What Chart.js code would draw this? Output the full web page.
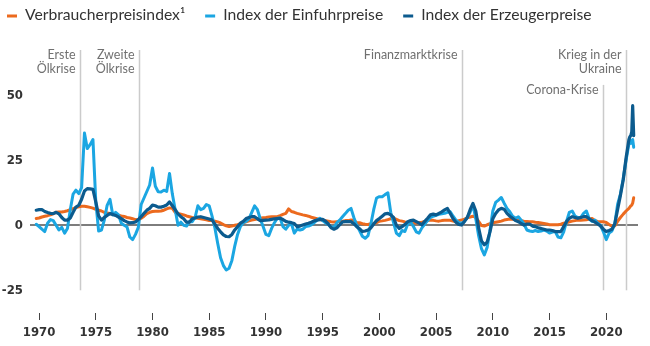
<!DOCTYPE html>
<html>
<head>
<meta charset="utf-8">
<script src="https://cdn.jsdelivr.net/npm/chart.js@4.4.0/dist/chart.umd.min.js"></script>
<style>
html, body { margin: 0; padding: 0; background: #fff; }
</style>
</head>
<body>
<canvas id="myChart" width="650" height="346"></canvas>
<script>
// Veränderung gegenüber Vorjahr in %, Quartalswerte ab Q4 1969, 2022 monatlich
var seriesNames = ['Verbraucherpreisindex\u00b9', 'Index der Einfuhrpreise', 'Index der Erzeugerpreise'];
var seriesColors = ['#ec6a1e', '#1ba6e2', '#0c5b8e'];

var firstDate = 1969.75;
var lastQuarter = 2022.0;
var tailDates = [2022.08, 2022.17, 2022.25, 2022.33, 2022.42];

var yearTicks = [1970, 1975, 1980, 1985, 1990, 1995, 2000, 2005, 2010, 2015, 2020];
var valueTicks = [-25, 0, 25, 50];

var eventDates = [1973.6, 1978.85, 2007.25, 2019.75, 2021.72];
var eventLabels = [['Erste', '\u00d6lkrise'], ['Zweite', '\u00d6lkrise'], ['Finanzmarktkrise'], ['Corona-Krise'], ['Krieg in der', 'Ukraine']];

var cpi = [
	2.6,
	2.8, 3.2, 3.5, 3.7,    // 1970
	4.0, 4.5, 5.0, 5.1,
	5.1, 5.3, 5.6, 6.0,
	6.4, 6.8, 7.1, 7.3,
	7.3, 7.1, 6.9, 6.6,
	6.1, 5.8, 5.5, 5.0,    // 1975
	4.7, 4.5, 4.2, 4.0,
	3.9, 3.6, 3.4, 3.0,
	2.8, 2.5, 2.2, 2.0,
	2.7, 3.5, 4.5, 5.0,
	5.3, 5.4, 5.4, 5.5,    // 1980
	5.8, 6.3, 6.7, 6.5,
	5.0, 4.6, 4.3, 4.0,
	3.6, 3.3, 3.0, 2.9,
	2.7, 2.5, 2.3, 2.1,
	1.8, 1.8, 1.6, 1.3,    // 1985
	0.9, 0.3, -0.2, -0.5,
	-0.3, 0.0, 0.2, 0.6,
	1.0, 1.3, 1.7, 2.0,
	2.2, 2.5, 2.7, 2.9,
	3.0, 3.2, 3.3, 3.3,    // 1990
	3.3, 3.7, 4.2, 4.6,
	6.3, 5.3, 5.0, 4.6,
	4.3, 4.0, 3.8, 3.5,
	3.1, 2.8, 2.5, 2.2,
	2.0, 1.8, 1.6, 1.4,    // 1995
	1.3, 1.4, 1.5, 1.6,
	1.8, 1.8, 2.0, 1.9,
	1.0, 1.0, 0.6, 0.4,
	0.3, 0.6, 0.7, 1.0,
	1.6, 1.7, 1.9, 2.2,    // 2000
	2.5, 2.8, 2.3, 1.8,
	1.6, 1.3, 1.1, 1.0,
	1.0, 0.9, 1.0, 1.2,
	1.5, 1.8, 2.0, 1.9,
	1.7, 1.6, 1.8, 1.9,    // 2005
	1.9, 1.9, 1.6, 1.4,
	1.8, 2.0, 2.4, 2.9,
	3.2, 3.5, 3.0, 1.5,
	-0.1, -0.3, 0.2, 0.6,
	1.0, 1.2, 1.4, 1.6,    // 2010
	2.0, 2.2, 2.4, 2.3,
	2.1, 2.0, 1.8, 1.6,
	1.5, 1.4, 1.4, 1.2,
	1.1, 0.9, 0.7, 0.5,
	0.2, 0.2, 0.2, 0.2,    // 2015
	0.4, 0.8, 1.0, 1.3,
	1.6, 1.8, 2.0, 1.9,
	2.0, 2.1, 2.4, 2.6,
	1.8, 1.5, 1.4, 1.4,
	1.1, 0.3, -0.3, -0.3,  // 2020
	1.5, 3.0, 4.3, 5.5,
	6.5,
	7.0, 7.5, 7.8, 8.5, 10.6
];

var importPrices = [
	0.4,
	-0.5, -1.5, -2.4, 0.8,     // 1970
	2.2, 1.8, 0.0, -1.8,
	-0.8, -3.0, -1.2, 6.0,
	12.0, 13.5, 12.2, 14.5,
	35.5, 29.5, 31.0, 33.0,
	9.0, -2.2, -1.8, 2.0,      // 1975
	7.7, 10.0, 4.0, 5.0,
	4.0, 0.8, 0.0, -0.6,
	-4.5, -5.5, -3.5, -0.8,
	8.0, 10.5, 13.0, 15.5,
	22.0, 15.0, 12.9, 12.8,    // 1980
	13.5, 13.0, 19.9, 12.0,
	6.0, 0.0, 1.2, 0.0,
	-0.3, 1.4, 1.4, 3.0,
	7.5, 6.0, 6.5, 8.0,
	7.5, 3.5, -1.0, -7.0,      // 1985
	-12.5, -15.5, -17.2, -16.5,
	-13.5, -8.0, -3.5, -0.5,
	1.0, 1.5, 2.5, 5.0,
	7.5, 6.0, 2.5, -0.5,
	-3.5, -4.0, -1.2, 1.0,     // 1990
	2.7, 2.8, -0.5, -1.5,
	0.0, 0.6, -3.0, -1.5,
	-1.8, -1.5, -0.5, -0.3,
	0.2, 1.0, 2.0, 2.7,
	1.8, 1.0, 0.2, -0.5,       // 1995
	-0.8, 1.0, 2.0, 3.3,
	4.5, 5.8, 6.5, 3.0,
	0.0, -2.0, -4.2, -5.0,
	-4.0, 0.5, 6.0, 10.5,
	11.0, 11.0, 11.8, 12.5,    // 2000
	5.0, 1.0, -3.0, -4.0,
	-2.0, -2.4, 0.5, 1.4,
	-0.5, -2.5, -3.0, -1.0,
	0.5, 1.8, 3.0, 3.5,
	3.8, 4.2, 4.4, 4.6,        // 2005
	5.0, 5.2, 3.5, 2.0,
	1.0, 0.8, 1.5, 3.0,
	5.0, 7.8, 2.5, -4.0,
	-9.0, -11.4, -8.5, -2.0,
	5.5, 8.8, 9.7, 10.7,       // 2010
	8.5, 6.5, 5.2, 3.5,
	2.7, 3.3, 2.0, 0.5,
	-1.8, -2.2, -2.4, -2.0,
	-2.4, -2.2, -1.8, -2.2,
	-3.0, -2.6, -2.4, -4.5,    // 2015
	-4.8, -2.5, 1.5, 5.0,
	5.5, 3.5, 3.0, 3.0,
	4.6, 5.5, 2.5, 1.5,
	2.0, 0.8, 0.0, -2.5,
	-5.5, -3.0, -2.2, 0.5,     // 2020
	8.0, 12.0, 18.0, 25.0,
	31.5,
	32.7, 31.5, 32.5, 33.0, 30.0
];

var producerPrices = [
	5.8,
	6.0, 6.0, 5.3, 4.9,     // 1970
	4.6, 4.5, 5.0, 4.4,
	3.0, 2.0, 2.0, 2.8,
	5.0, 7.0, 7.7, 10.0,
	13.2, 14.1, 14.0, 13.8,
	9.0, 3.6, 2.0, 3.0,     // 1975
	3.8, 4.5, 4.2, 3.8,
	3.2, 2.6, 1.8, 1.3,
	0.9, 1.0, 1.3, 2.2,
	3.3, 4.6, 5.8, 6.5,
	7.8, 7.5, 7.0, 7.0,     // 1980
	7.3, 7.8, 9.0, 7.5,
	6.0, 4.4, 3.3, 2.5,
	1.2, 1.2, 2.5, 2.8,
	3.2, 3.3, 3.0, 2.7,
	2.4, 2.0, 0.5, -1.2,    // 1985
	-2.5, -3.7, -4.3, -4.4,
	-3.5, -1.8, -0.5, 0.8,
	1.5, 2.6, 3.0, 3.3,
	3.3, 2.5, 1.8, 1.9,
	2.0, 2.1, 2.3, 2.5,     // 1990
	2.6, 2.7, 2.2, 1.5,
	1.2, 1.0, 0.7, -0.5,
	-0.3, 0.1, 0.5, 0.8,
	1.2, 1.7, 2.0, 2.2,
	2.3, 1.6, 0.5, -1.0,    // 1995
	-1.5, -1.0, 0.2, 1.3,
	1.4, 1.4, 1.4, 0.6,
	-0.5, -1.3, -2.4, -2.2,
	-1.8, -1.0, 0.5, 1.8,
	2.6, 3.5, 4.4, 4.6,     // 2000
	4.0, 3.0, 0.0, -1.2,
	-0.5, 0.3, 1.4, 1.8,
	2.0, 1.4, 0.8, 0.2,
	1.5, 2.7, 4.0, 4.3,
	4.0, 4.6, 5.2, 5.9,     // 2005
	6.5, 4.5, 2.5, 1.2,
	0.3, 0.1, 1.5, 3.0,
	6.0, 8.4, 5.5, -1.0,
	-6.0, -7.5, -6.5, -2.5,
	2.5, 4.5, 5.9, 6.5,     // 2010
	6.2, 4.6, 3.5, 2.7,
	1.8, 1.4, 0.7, 0.1,
	0.5, 0.5, -0.3, -0.5,
	-1.0, -1.2, -1.5, -1.8,
	-1.8, -2.0, -2.4, -2.4, // 2015
	-2.4, -0.5, 1.5, 2.7,
	3.3, 3.0, 2.7, 3.0,
	3.3, 3.3, 2.5, 1.8,
	1.2, 0.5, -0.3, -1.5,
	-2.4, -2.0, -1.5, 0.5,  // 2020
	6.0, 11.5, 17.5, 26.0,
	33.0,
	34.0, 34.6, 36.0, 46.0, 34.5
];

// Datumsachse: Quartale + Monate 2022
var dates = [];
for (var d = firstDate; d <= lastQuarter; d += 0.25) {
	dates.push(d);
}
dates = dates.concat(tailDates);

function toPoints(values) {
	return values.map(function(v, i){
		return {x: dates[i], y: v};
	});
}

// Krisenlinien mit Beschriftung
var crisisLines = {
	id: 'crisisLines',
	beforeDatasetsDraw: function(chart) {
		var ctx = chart.ctx;
		var xs = chart.scales.x;
		var ys = chart.scales.y;
		var bottom = ys.getPixelForValue(-25);
		ctx.save();
		for (var i = 0; i < eventDates.length; i++) {
			var px = Math.round(xs.getPixelForValue(eventDates[i])) + 0.5;
			var top = chart.chartArea.top;
			if (i == 3) top = ys.getPixelForValue(54);
			ctx.strokeStyle = '#cbcbcb';
			ctx.lineWidth = 1.5;
			ctx.beginPath();
			ctx.moveTo(px, top);
			ctx.lineTo(px, bottom);
			ctx.stroke();

			ctx.fillStyle = '#707070';
			ctx.font = '12.5px Lato';
			ctx.textAlign = 'right';
			ctx.textBaseline = 'middle';
			for (var j = 0; j < eventLabels[i].length; j++) {
				ctx.fillText(eventLabels[i][j], px - 5, top + 5 + j * 13.5);
			}
		}
		ctx.restore();
	}
};

// Legende oben links
var topLegend = {
	id: 'topLegend',
	afterDraw: function(chart) {
		var ctx = chart.ctx;
		ctx.save();
		ctx.font = '15.7px Lato';
		ctx.textBaseline = 'alphabetic';
		ctx.textAlign = 'left';
		var x = 7;
		for (var i = 0; i < seriesNames.length; i++) {
			ctx.fillStyle = seriesColors[i];
			ctx.fillRect(x, 14.5, 10, 3);
			ctx.fillStyle = '#333333';
			ctx.fillText(seriesNames[i], x + 18, 20);
			x += 18 + ctx.measureText(seriesNames[i]).width + 20;
		}
		ctx.restore();
	}
};

var axisFont = { family: '"Liberation Sans Narrow", "DejaVu Sans Condensed", Roboto', weight: 'bold', size: 13 };

var ctx = document.getElementById('myChart').getContext('2d');
var myChart = new Chart(ctx, {
	type: 'line',
	data: {
		datasets: [{
			label: seriesNames[2],
			data: toPoints(producerPrices),
			borderColor: seriesColors[2],
			borderWidth: 3.2,
			order: 0
		}, {
			label: seriesNames[1],
			data: toPoints(importPrices),
			borderColor: seriesColors[1],
			borderWidth: 3,
			order: 1
		}, {
			label: seriesNames[0],
			data: toPoints(cpi),
			borderColor: seriesColors[0],
			borderWidth: 3,
			order: 2
		}]
	},
	options: {
		responsive: false,
		animation: false,
		devicePixelRatio: 1,
		events: [],
		layout: { padding: { top: 50, right: 12, left: 0, bottom: 0 } },
		elements: {
			point: { radius: 0 },
			line: { tension: 0, borderJoinStyle: 'round', borderCapStyle: 'round' }
		},
		plugins: {
			legend: { display: false },
			tooltip: { enabled: false }
		},
		scales: {
			x: {
				type: 'linear',
				min: 1969.2,
				max: 2022.8,
				afterBuildTicks: function(scale) {
					scale.ticks = yearTicks.map(function(v){ return {value: v}; });
				},
				afterFit: function(scale) { scale.height = 33; },
				border: { display: false },
				grid: { drawOnChartArea: false, drawTicks: true, tickLength: 7, color: '#444', lineWidth: 1 },
				ticks: {
					autoSkip: false,
					maxRotation: 0,
					padding: 5,
					color: '#333',
					font: axisFont,
					callback: function(v) { return String(v); }
				}
			},
			y: {
				min: -33.73,
				max: 67.42,
				afterBuildTicks: function(scale) {
					scale.ticks = valueTicks.map(function(v){ return {value: v}; });
				},
				afterFit: function(scale) { scale.width = 30; },
				border: { display: false },
				grid: {
					drawTicks: false,
					lineWidth: 2,
					color: function(c) { return c.tick && c.tick.value === 0 ? '#7d7d7d' : 'rgba(0,0,0,0)'; }
				},
				ticks: {
					padding: 7,
					color: '#333',
					font: axisFont
				}
			}
		}
	},
	plugins: [crisisLines, topLegend]
});
</script>
</body>
</html>
